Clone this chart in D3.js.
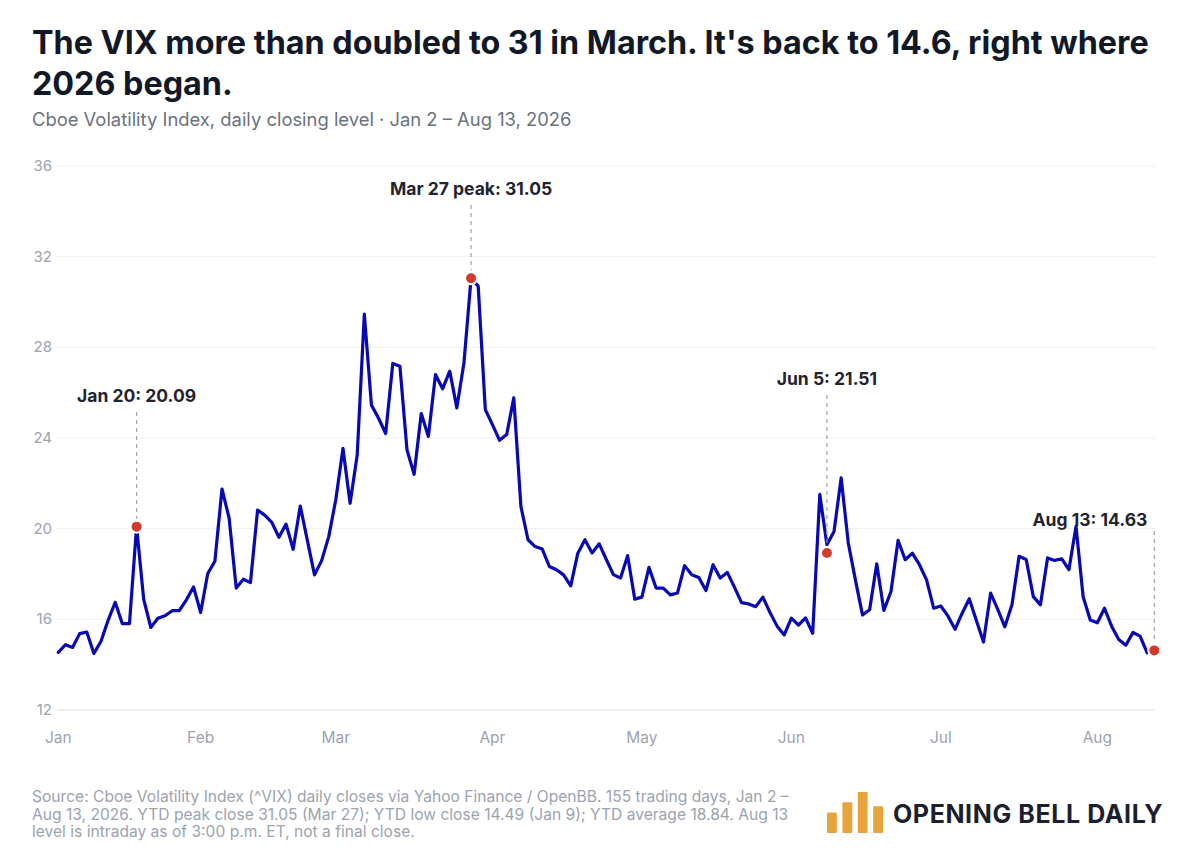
<!DOCTYPE html>
<html>
<head>
<meta charset="utf-8">
<title>VIX 2026</title>
<script src="https://cdn.jsdelivr.net/npm/d3@7"></script>
<style>
  body { margin: 0; background: #fff; }
  svg text { font-family: Inter, "Noto Sans", sans-serif; }
</style>
</head>
<body>
<svg id="chart" width="1200" height="860"></svg>
<script>
// daily closes, one per trading day starting Jan 2
var vix = [
  14.54, 14.88, 14.76, 15.37, 15.44, 14.49, 15.03, 15.96, 16.75, 15.81,
  15.81, 20.09, 16.88, 15.64, 16.05, 16.16, 16.38, 16.38, 16.86, 17.43,
  16.30, 18.02, 18.56, 21.75, 20.47, 17.38, 17.77, 17.62, 20.82, 20.60,
  20.28, 19.62, 20.20, 19.09, 21.00, 19.47, 17.96, 18.59, 19.65, 21.30,
  23.54, 21.12, 23.25, 29.47, 25.45, 24.87, 24.20, 27.29, 27.17, 23.47,
  22.40, 25.08, 24.07, 26.80, 26.17, 26.95, 25.33, 27.32, 31.05, 30.70,
  25.25, 24.59, 23.90, 24.15, 25.77, 20.98, 19.51, 19.21, 19.10, 18.33,
  18.19, 17.96, 17.48, 18.92, 19.51, 18.93, 19.33, 18.64, 17.97, 17.82,
  18.81, 16.89, 16.98, 18.29, 17.38, 17.38, 17.08, 17.16, 18.37, 17.97,
  17.85, 17.27, 18.41, 17.82, 18.07, 17.42, 16.74, 16.68, 16.56, 16.98,
  16.30, 15.70, 15.31, 16.05, 15.75, 16.06, 15.38, 21.51, 19.29, 19.88,
  22.24, 19.37, 17.74, 16.19, 16.42, 18.45, 16.39, 17.23, 19.48, 18.63,
  18.92, 18.41, 17.74, 16.49, 16.59, 16.15, 15.56, 16.27, 16.91, 15.95,
  15.00, 17.16, 16.44, 15.67, 16.64, 18.78, 18.64, 17.00, 16.64, 18.71,
  18.60, 18.67, 18.19, 20.10, 17.00, 15.97, 15.85, 16.49, 15.70, 15.11,
  14.86, 15.42, 15.26, 14.52
];
var totalDays = 155;

var monthLabels = ["Jan", "Feb", "Mar", "Apr", "May", "Jun", "Jul", "Aug"];
var monthStart = [0, 20, 39, 61, 82, 103, 124, 146];   // trading-day index of 1st session

var yTicks = [12, 16, 20, 24, 28, 32, 36];

var annText = ["Jan 20: 20.09", "Mar 27 peak: 31.05", "Jun 5: 21.51", "Aug 13: 14.63"];
var annDay = [11, 58, 108, 154];
var annValue = [20.09, 31.05, 18.93, 14.63];

var sourceLines = [
  "Source: Cboe Volatility Index (^VIX) daily closes via Yahoo Finance / OpenBB. 155 trading days, Jan 2 \u2013",
  "Aug 13, 2026. YTD peak close 31.05 (Mar 27); YTD low close 14.49 (Jan 9); YTD average 18.84. Aug 13",
  "level is intraday as of 3:00 p.m. ET, not a final close."
];
var logoBars = [2, 3, 4, 2.6];

var svg = d3.select("#chart");

var x = d3.scaleLinear().domain([0, totalDays - 1]).range([58.3, 1154.3]);
var y = d3.scaleLinear().domain([12, 36]).range([710, 166]);

// title block
svg.append("text").attr("x", 32).attr("y", 54)
   .style("font-size", "32.3px").style("font-weight", 700).attr("fill", "#111827")
   .text("The VIX more than doubled to 31 in March. It's back to 14.6, right where");
svg.append("text").attr("x", 32).attr("y", 95)
   .style("font-size", "32.3px").style("font-weight", 700).attr("fill", "#111827")
   .text("2026 began.");
svg.append("text").attr("x", 32).attr("y", 126)
   .style("font-size", "18.4px").attr("fill", "#6b7280")
   .text("Cboe Volatility Index, daily closing level \u00b7 Jan 2 \u2013 Aug 13, 2026");

// grid + y labels
svg.append("g").selectAll("line").data(yTicks).enter().append("line")
   .attr("x1", 57).attr("x2", 1155)
   .attr("y1", function(d) { return y(d); }).attr("y2", function(d) { return y(d); })
   .attr("stroke", function(d) { return d == 12 ? "#dcdfe4" : "#eef0f2"; })
   .attr("stroke-width", 1);

svg.append("g").selectAll("text").data(yTicks).enter().append("text")
   .attr("x", 52).attr("y", function(d) { return y(d) + 5; })
   .attr("text-anchor", "end")
   .style("font-size", "15px").attr("fill", "#9ca3af")
   .text(function(d) { return d; });

// x labels
svg.append("g").selectAll("text").data(monthStart).enter().append("text")
   .attr("x", function(d) { return x(d); }).attr("y", 743)
   .attr("text-anchor", "middle")
   .style("font-size", "15.5px").attr("fill", "#9ca3af")
   .text(function(d, i) { return monthLabels[i]; });

// line
var line = d3.line()
   .x(function(d, i) { return x(i); })
   .y(function(d) { return y(d); });

svg.append("path").datum(vix)
   .attr("d", line)
   .attr("fill", "none")
   .attr("stroke", "#0808b4")
   .attr("stroke-width", 3.2)
   .attr("stroke-linejoin", "round")
   .attr("stroke-linecap", "round");

// annotations
var labelBase = [402, 195, 385, 526];
var ann = annText.map(function(t, i) {
  return { text: t, day: annDay[i], value: annValue[i], base: labelBase[i], last: i == annText.length - 1 };
});

var ag = svg.append("g");
ag.selectAll("line").data(ann).enter().append("line")
   .attr("x1", function(d) { return x(d.day); })
   .attr("x2", function(d) { return x(d.day); })
   .attr("y1", function(d) { return d.last ? d.base + 5 : d.base + 10; })
   .attr("y2", function(d) { return y(d.value) - 8; })
   .attr("stroke", "#9ca3af").attr("stroke-width", 1.2)
   .attr("stroke-dasharray", "4,4");

ag.selectAll("circle").data(ann).enter().append("circle")
   .attr("cx", function(d) { return x(d.day); })
   .attr("cy", function(d) { return y(d.value); })
   .attr("r", 6)
   .attr("fill", "#d23a2e")
   .attr("stroke", "#fff").attr("stroke-width", 2);

ag.selectAll("text").data(ann).enter().append("text")
   .attr("x", function(d) { return d.last ? x(d.day) - 7 : x(d.day); })
   .attr("y", function(d) { return d.base; })
   .attr("text-anchor", function(d) { return d.last ? "end" : "middle"; })
   .style("font-size", "17.5px").style("font-weight", 700).attr("fill", "#1f2430")
   .text(function(d) { return d.text; });

// footer
svg.append("g").selectAll("text").data(sourceLines).enter().append("text")
   .attr("x", 32).attr("y", function(d, i) { return 802 + i * 17.6; })
   .style("font-size", "15.6px").attr("fill", "#9ca3af")
   .text(function(d) { return d; });

// logo
var lb = d3.scaleBand().domain(d3.range(logoBars.length)).range([827, 883]).paddingInner(0.36);
var lh = d3.scaleLinear().domain([0, 4]).range([0, 41]);
svg.append("g").selectAll("rect").data(logoBars).enter().append("rect")
   .attr("x", function(d, i) { return lb(i); })
   .attr("width", lb.bandwidth())
   .attr("y", function(d) { return 833 - lh(d); })
   .attr("height", function(d) { return lh(d); })
   .attr("rx", 1)
   .attr("fill", "#e9a33b");

svg.append("text").attr("x", 893).attr("y", 823)
   .style("font-size", "25px").style("font-weight", 700)
   .style("letter-spacing", "0.6px").attr("fill", "#1b2030")
   .text("OPENING BELL DAILY");
</script>
</body>
</html>
